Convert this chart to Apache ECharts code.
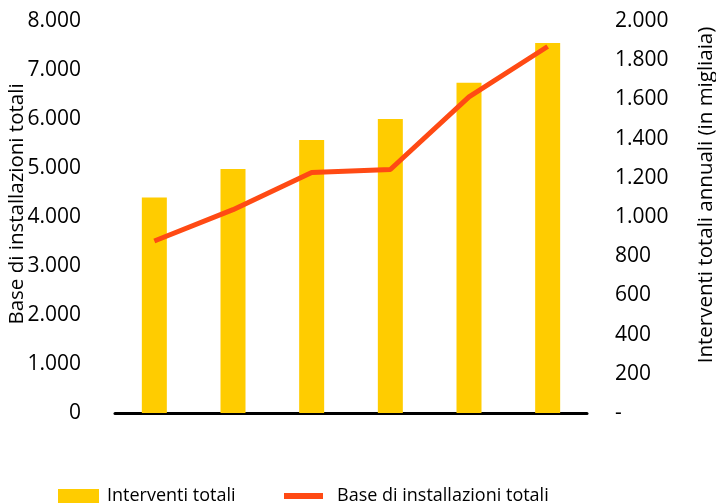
<!DOCTYPE html>
<html>
<head>
<meta charset="utf-8">
<script src="https://cdn.jsdelivr.net/npm/echarts@6/dist/echarts.min.js"></script>
<style>html,body{margin:0;padding:0;background:#fff;}#c{width:716px;height:503px;}</style>
</head>
<body>
<div id="c"></div>
<script>
var categories = ['1', '2', '3', '4', '5', '6'];
var interventiTotali = [1100, 1245, 1393, 1500, 1685, 1888];
var baseInstallazioni = [3510, 4150, 4910, 4970, 6450, 7480];
var leftTicks = [0, 1000, 2000, 3000, 4000, 5000, 6000, 7000, 8000];
var rightTicks = [0, 200, 400, 600, 800, 1000, 1200, 1400, 1600, 1800, 2000];
var leftTitle = 'Base di installazioni totali';
var rightTitle = 'Interventi totali annuali (in migliaia)';
var barName = 'Interventi totali';
var lineName = 'Base di installazioni totali';

function fmt(v) {
  return String(v).replace(/\B(?=(\d{3})+(?!\d))/g, '.');
}
var FONT = 'Open Sans';
var chart = echarts.init(document.getElementById('c'), null, {renderer: 'canvas'});
chart.setOption({
  animation: false,
  backgroundColor: '#ffffff',
  textStyle: {fontFamily: FONT},
  grid: {left: 115, right: 129, top: 21, bottom: 90, containLabel: false},
  legend: [
    {
      data: [{name: barName, icon: 'rect'}],
      left: 53, top: 482, itemWidth: 41, itemHeight: 14,
      textStyle: {fontFamily: FONT, fontSize: 18, color: '#000', padding: [0, 0, 0, 3]},
      selectedMode: false
    },
    {
      data: [{name: lineName, icon: 'rect'}],
      left: 279, top: 482, itemWidth: 39, itemHeight: 6,
      textStyle: {fontFamily: FONT, fontSize: 18, color: '#000', padding: [0, 0, 0, 9]},
      selectedMode: false
    }
  ],
  xAxis: {
    type: 'category',
    data: categories,
    axisLine: {show: true, lineStyle: {color: '#000', width: 3}},
    axisTick: {show: false},
    axisLabel: {show: false},
    splitLine: {show: false}
  },
  yAxis: [
    {
      type: 'value', min: leftTicks[0], max: leftTicks[leftTicks.length - 1], interval: 1000,
      position: 'left',
      axisLine: {show: false}, axisTick: {show: false}, splitLine: {show: false},
      axisLabel: {margin: 34, fontSize: 21, color: '#000', fontFamily: FONT, formatter: fmt}
    },
    {
      type: 'value', min: rightTicks[0], max: rightTicks[rightTicks.length - 1], interval: 200,
      position: 'right',
      axisLine: {show: false}, axisTick: {show: false}, splitLine: {show: false},
      axisLabel: {margin: 28, fontSize: 21, color: '#000', fontFamily: FONT,
        formatter: function (v) { return v === 0 ? '-' : fmt(v); }}
    }
  ],
  graphic: [
    {type: 'text', x: 17, y: 204, rotation: Math.PI / 2,
      style: {text: leftTitle, fontFamily: FONT, fontSize: 20.5, fill: '#000', textAlign: 'center', textVerticalAlign: 'middle'}},
    {type: 'text', x: 706, y: 195, rotation: Math.PI / 2,
      style: {text: rightTitle, fontFamily: FONT, fontSize: 20.5, fill: '#000', textAlign: 'center', textVerticalAlign: 'middle'}}
  ],
  series: [
    {
      name: barName, type: 'bar', yAxisIndex: 1, data: interventiTotali,
      barWidth: 25, itemStyle: {color: '#FFCC00'}, z: 2
    },
    {
      name: lineName, type: 'line', yAxisIndex: 0, data: baseInstallazioni,
      showSymbol: false, symbol: 'none', lineStyle: {color: '#FF4A14', width: 5},
      itemStyle: {color: '#FF4A14'}, z: 3
    }
  ]
});
</script>
</body>
</html>
